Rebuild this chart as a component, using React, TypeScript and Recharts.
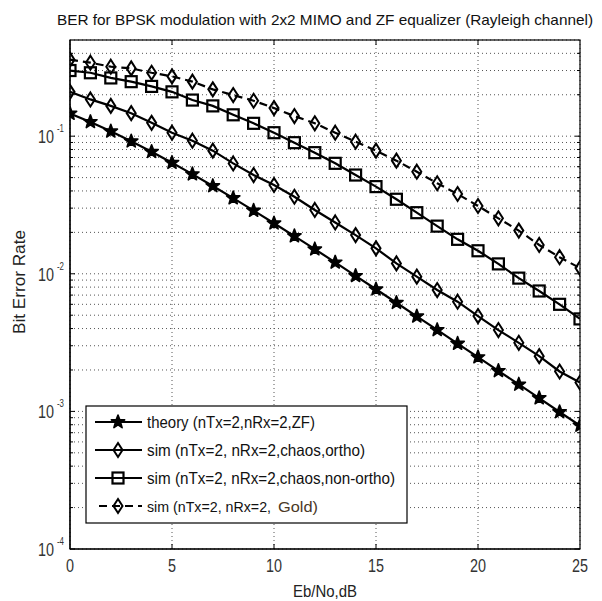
import React from 'react';
import { LineChart, Line, XAxis, YAxis, CartesianGrid, Customized } from 'recharts';

// ---------- data ----------
const ebNo = [0, 1, 2, 3, 4, 5, 6, 7, 8, 9, 10, 11, 12, 13, 14, 15, 16, 17, 18, 19, 20, 21, 22, 23, 24, 25];
const theory = [0.146, 0.127, 0.1085, 0.0919, 0.0771, 0.0642, 0.053, 0.0435, 0.0355, 0.0288, 0.0233, 0.0188, 0.0151, 0.0121, 0.00966, 0.00772, 0.00616, 0.00491, 0.00391, 0.00311, 0.00248, 0.00197, 0.00157, 0.00125, 0.00099, 0.00079];
const chaosOrtho = [0.21, 0.185, 0.166, 0.147, 0.125, 0.106, 0.0927, 0.0785, 0.0634, 0.0522, 0.0442, 0.0363, 0.0291, 0.0236, 0.0191, 0.0153, 0.0119, 0.00953, 0.00762, 0.00627, 0.00493, 0.0039, 0.00315, 0.00252, 0.00195, 0.00162];
const chaosNonOrtho = [0.3, 0.289, 0.265, 0.249, 0.23, 0.21, 0.183, 0.166, 0.143, 0.124, 0.106, 0.0897, 0.0759, 0.0635, 0.0522, 0.043, 0.0348, 0.0278, 0.0222, 0.0178, 0.0147, 0.0118, 0.0093, 0.0075, 0.006, 0.0047];
const gold = [0.36, 0.342, 0.32, 0.311, 0.289, 0.272, 0.249, 0.219, 0.199, 0.181, 0.16, 0.14, 0.124, 0.106, 0.0912, 0.0785, 0.0664, 0.0552, 0.0455, 0.038, 0.0311, 0.0253, 0.0206, 0.0162, 0.0132, 0.011];

const xTicks = [0, 5, 10, 15, 20, 25];
const yDecades = [1e-4, 1e-3, 1e-2, 1e-1];
const yDecadeLabels = ['-4', '-3', '-2', '-1'];
const yMultipliers = [1, 2, 3, 4, 5, 6, 7, 8, 9];
const yTop = 0.5;

const title = 'BER for BPSK modulation with 2x2 MIMO and ZF equalizer (Rayleigh channel)';
const xLabel = 'Eb/No,dB';
const yLabel = 'Bit Error Rate';
const legendLabels = [
  'theory (nTx=2,nRx=2,ZF)',
  'sim (nTx=2, nRx=2,chaos,ortho)',
  'sim (nTx=2, nRx=2,chaos,non-ortho)',
  'sim (nTx=2, nRx=2,',
];
const goldWord = 'Gold)';

const data = ebNo.map((x, i) => ({
  x,
  theory: theory[i],
  ortho: chaosOrtho[i],
  nonOrtho: chaosNonOrtho[i],
  gold: gold[i],
}));

const yTicks: number[] = [];
yDecades.forEach((d) => yMultipliers.forEach((m) => { const v = d * m; if (v < yTop * 0.999) yTicks.push(v); }));

// ---------- layout ----------
const W = 602;
const H = 601;
const PL = 70;
const PR = 580;
const PT = 40;
const PB = 549;
const FONT = '"Liberation Sans", Arial, sans-serif';

// ---------- markers ----------
const starPath = (cx: number, cy: number, R: number) => {
  const r = R * 0.42;
  let d = '';
  for (let k = 0; k < 10; k++) {
    const rad = k % 2 === 0 ? R : r;
    const a = -Math.PI / 2 + (k * Math.PI) / 5;
    d += (k === 0 ? 'M' : 'L') + (cx + rad * Math.cos(a)).toFixed(2) + ',' + (cy + rad * Math.sin(a)).toFixed(2);
  }
  return d + 'Z';
};

const Star = ({ cx, cy }: any) => (
  <path d={starPath(cx, cy, 7)} fill="#000" stroke="#000" strokeWidth={1.6} strokeLinejoin="round" />
);
const Diamond = ({ cx, cy }: any) => (
  <path d={`M${cx},${cy - 7}L${cx + 4.5},${cy}L${cx},${cy + 7}L${cx - 4.5},${cy}Z`} fill="none" stroke="#000" strokeWidth={2} />
);
const Square = ({ cx, cy }: any) => (
  <rect x={cx - 5.5} y={cy - 5.5} width={11} height={11} fill="none" stroke="#000" strokeWidth={2.2} />
);

const dotFn = (Comp: any) => (p: any) => {
  if (p.cx == null || p.cy == null) return <g key={`n${p.index}`} />;
  return <Comp key={`m${p.index}`} cx={p.cx} cy={p.cy} />;
};

// ---------- ticks ----------
const YTick = (props: any) => {
  const { y, payload } = props;
  const v = payload.value;
  const di = yDecades.findIndex((d) => Math.abs(d - v) / d < 1e-6);
  const major = di >= 0;
  const len = major ? 5 : 3;
  return (
    <g>
      <line x1={PL} x2={PL + len} y1={y} y2={y} stroke="#000" strokeWidth={1} />
      <line x1={PR} x2={PR - len} y1={y} y2={y} stroke="#000" strokeWidth={1} />
      {major && (
        <g>
          <text x={54} y={y + 7} textAnchor="end" fontFamily={FONT} fontSize={18} fill="#333"
            textLength={16} lengthAdjust="spacingAndGlyphs">10</text>
          <text x={57} y={y - 4} textAnchor="start" fontFamily={FONT} fontSize={11} fill="#333"
            textLength={7} lengthAdjust="spacingAndGlyphs">{yDecadeLabels[di]}</text>
        </g>
      )}
    </g>
  );
};

const XTick = (props: any) => {
  const { x, payload } = props;
  const v = payload.value;
  const inner = v !== xTicks[0] && v !== xTicks[xTicks.length - 1];
  return (
    <g>
      {inner && <line x1={x} x2={x} y1={PB} y2={PB - 5} stroke="#000" strokeWidth={1} />}
      {inner && <line x1={x} x2={x} y1={PT} y2={PT + 5} stroke="#000" strokeWidth={1} />}
      <text x={x} y={572} textAnchor="middle" fontFamily={FONT} fontSize={18} fill="#333"
        textLength={String(v).length * 8} lengthAdjust="spacingAndGlyphs">{v}</text>
    </g>
  );
};

// ---------- overlay: frame, titles, legend ----------
const rowY = [422, 450, 478, 506];
const rowText = [168, 218, 248, 124];
const markers = [Star, Diamond, Square, Diamond];

const Overlay = () => (
  <g>
    <rect x={PL} y={PT} width={PR - PL} height={PB - PT} fill="none" stroke="#000" strokeWidth={1.2} />
    <text x={325} y={25} textAnchor="middle" fontFamily={FONT} fontSize={15} fill="#111"
      textLength={536} lengthAdjust="spacingAndGlyphs">{title}</text>
    <text x={325} y={597} textAnchor="middle" fontFamily={FONT} fontSize={17} fill="#222"
      textLength={64} lengthAdjust="spacingAndGlyphs">{xLabel}</text>
    <text x={0} y={0} transform={`translate(25,282) rotate(-90)`} textAnchor="middle" fontFamily={FONT}
      fontSize={17} fill="#222" textLength={104} lengthAdjust="spacingAndGlyphs">{yLabel}</text>
    <rect x={86} y={406} width={321} height={117} fill="#fff" stroke="#000" strokeWidth={1.2} />
    {rowY.map((ry, i) => {
      const M = markers[i];
      const fs = i === 3 ? 14.5 : 16.5;
      return (
        <g key={i}>
          {i < 3 ? (
            <line x1={95} x2={142} y1={ry} y2={ry} stroke="#000" strokeWidth={2.2} />
          ) : (
            <line x1={99} x2={142} y1={ry} y2={ry} stroke="#000" strokeWidth={2.2} strokeDasharray="8 5" />
          )}
          <M cx={118} cy={ry} />
          <text x={147} y={ry + 6} fontFamily={FONT} fontSize={fs} fill="#111"
            textLength={rowText[i]} lengthAdjust="spacingAndGlyphs">{legendLabels[i]}</text>
          {i === 3 && (
            <text x={278} y={ry + 6} fontFamily={FONT} fontSize={fs} fill="#4a3826"
              textLength={40} lengthAdjust="spacingAndGlyphs">{goldWord}</text>
          )}
        </g>
      );
    })}
  </g>
);

export default function App() {
  return (
    <div style={{ position: 'absolute', left: 0, top: 0, width: W, height: H, background: '#fff' }}>
      <LineChart width={W} height={H} data={data} margin={{ top: PT, right: W - PR, bottom: H - PB - 30, left: 0 }}>
        <CartesianGrid stroke="#555" strokeDasharray="1 3" strokeWidth={1} />
        <XAxis type="number" dataKey="x" domain={[0, 25]} ticks={xTicks} height={30}
          axisLine={{ stroke: '#000', strokeWidth: 1.2 }} tickLine={false} tick={<XTick />} interval={0} allowDataOverflow />
        <YAxis type="number" scale="log" domain={[1e-4, yTop]} ticks={yTicks} width={PL}
          axisLine={{ stroke: '#000', strokeWidth: 1.2 }} tickLine={false} tick={<YTick />} interval={0} allowDataOverflow />
        <Line type="linear" dataKey="theory" stroke="#000" strokeWidth={2.2} isAnimationActive={false} dot={dotFn(Star)} activeDot={false} />
        <Line type="linear" dataKey="ortho" stroke="#000" strokeWidth={2.2} isAnimationActive={false} dot={dotFn(Diamond)} activeDot={false} />
        <Line type="linear" dataKey="nonOrtho" stroke="#000" strokeWidth={2.2} isAnimationActive={false} dot={dotFn(Square)} activeDot={false} />
        <Line type="linear" dataKey="gold" stroke="#000" strokeWidth={2.2} strokeDasharray="8 5" isAnimationActive={false} dot={dotFn(Diamond)} activeDot={false} />
        <Customized component={Overlay} />
      </LineChart>
    </div>
  );
}
